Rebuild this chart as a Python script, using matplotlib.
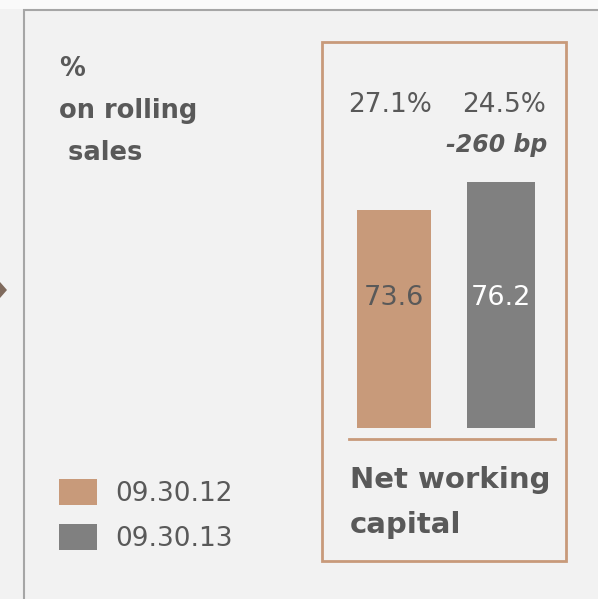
import matplotlib

matplotlib.use("Agg")
import matplotlib.pyplot as plt
from matplotlib.lines import Line2D
from matplotlib.patches import Patch, Polygon, Rectangle

DATES = ["09.30.12", "09.30.13"]
NWC_VALUES = [73.6, 76.2]
PCT_ON_SALES = ["27.1%", "24.5%"]
DELTA_LABEL = "-260 bp"
UNIT_LINES = ["%", "on rolling", " sales"]
CATEGORY_LINES = ["Net working", "capital"]

TAN = "#c89a7a"
GREY = "#808080"
TEXT = "#595959"
BG = "#f2f2f2"
FRAME = "#a6a6a6"

W, H = 598, 599


def fx(px):
    return px / W


def fy(py):
    return 1 - py / H


fig = plt.figure(figsize=(W / 100, H / 100), dpi=100, facecolor=BG)
plt.rcParams["font.family"] = ["DejaVu Sans"]

# white strip above the panel and the grey panel frame
fig.add_artist(Rectangle((0, fy(9)), 1, 1 - fy(9), transform=fig.transFigure,
                         facecolor="#fafafa", edgecolor="none"))
fig.add_artist(Line2D([fx(23.5), fx(23.5)], [fy(9), 0], transform=fig.transFigure,
                      color=FRAME, lw=1.5, solid_capstyle="butt"))
fig.add_artist(Line2D([fx(23), 1], [fy(9.5), fy(9.5)], transform=fig.transFigure,
                      color=FRAME, lw=1.5, solid_capstyle="butt"))

# connector arrow tip at the left edge
fig.add_artist(Polygon([(fx(-8), fy(290)), (fx(0), fy(282)), (fx(7), fy(290)), (fx(0), fy(298))],
                       closed=True, transform=fig.transFigure,
                       facecolor="#7f6a5d", edgecolor="none"))

# tan box around the NWC block
fig.add_artist(Rectangle((fx(321.5), fy(561)), fx(566) - fx(321.5), fy(41.5) - fy(561),
                         transform=fig.transFigure, facecolor="none",
                         edgecolor=TAN, lw=2.0))

# bar axes: baseline at y=427.5px, scale ~10.8 px per unit
y_base = 53.5
px_per_unit = 10.8
ax_bottom_px, ax_top_px = 427.5, 40
ax = fig.add_axes([fx(340.5), fy(ax_bottom_px), fx(554.5) - fx(340.5),
                   fy(ax_top_px) - fy(ax_bottom_px)])
ax.set_facecolor("none")
ax.set_xlim(-0.5, 1.5)
ax.set_ylim(y_base, y_base + (ax_bottom_px - ax_top_px) / px_per_unit)
ax.axis("off")


def ydata(py):
    return y_base + (ax_bottom_px - py) / px_per_unit


x = range(len(NWC_VALUES))
colors = [TAN, GREY]
ax.bar(x, [v - y_base for v in NWC_VALUES], bottom=y_base, width=[0.69, 0.635],
       color=colors, edgecolor="none")

label_colors = [TEXT, "white"]
for i, (v, c) in enumerate(zip(NWC_VALUES, label_colors)):
    ax.text(i, ydata(298), f"{v:.1f}", ha="center", va="center",
            fontsize=19.5, color=c)

for i, s in enumerate(PCT_ON_SALES):
    ax.text(i - 0.04 if i == 0 else i + 0.03, ydata(112), s, ha="center",
            va="baseline", fontsize=19, color=TEXT)

fig.text(fx(547), fy(152), DELTA_LABEL, ha="right", va="baseline",
         fontsize=17, fontweight="bold", fontstyle="italic", color=TEXT)

# separator under the bars
fig.add_artist(Line2D([fx(349), fx(555)], [fy(439), fy(439)], transform=fig.transFigure,
                      color=TAN, lw=2.0))

for line, base in zip(CATEGORY_LINES, [488, 533]):
    fig.text(fx(350), fy(base), line, ha="left", va="baseline",
             fontsize=21, fontweight="bold", color=TEXT)

for line, base in zip(UNIT_LINES, [76, 118, 160]):
    fig.text(fx(59), fy(base), line, ha="left", va="baseline",
             fontsize=18.5, fontweight="bold", color=TEXT)

handles = [Patch(facecolor=c, edgecolor="none") for c in colors]
fig.legend(handles, DATES, loc="upper left",
           bbox_to_anchor=(fx(59), fy(479)), frameon=False,
           fontsize=19, labelcolor=TEXT, borderpad=0, borderaxespad=0,
           handlelength=1.44, handleheight=1.12, handletextpad=0.68,
           labelspacing=0.66)

fig.savefig("out.png", dpi=100, facecolor=fig.get_facecolor())
